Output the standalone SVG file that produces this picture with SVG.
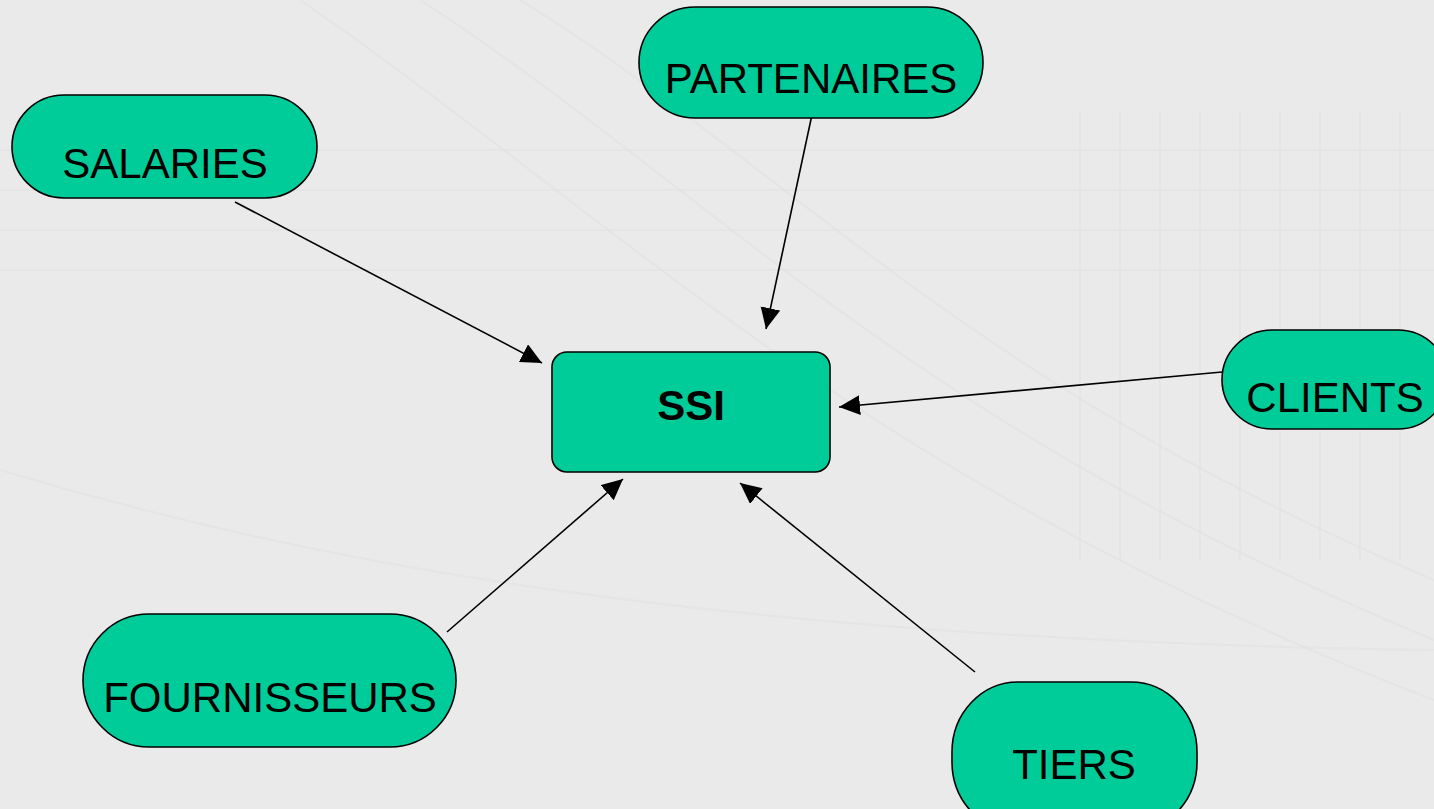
<svg xmlns="http://www.w3.org/2000/svg" width="1434" height="809" viewBox="0 0 1434 809">
  <style>
    .node { fill: #00cc99; stroke: #000; stroke-width: 1.6; }
    .label { font-family: "Liberation Sans", Arial, sans-serif; font-size: 42px; fill: #000; text-anchor: middle; }
    .bold { font-weight: bold; }
    .edge { stroke: #000; stroke-width: 1.6; fill: none; marker-end: url(#arrow); }
    .bgline { stroke: #e0e0e0; stroke-width: 2; fill: none; opacity: 0.5; }
  </style>
  <defs>
    <marker id="arrow" markerUnits="userSpaceOnUse" markerWidth="22" markerHeight="21" refX="21" refY="10" orient="auto">
      <path d="M0,0 L21,10 L0,20 z" fill="#000"/>
    </marker>
  </defs>

  <!-- backdrop -->
  <rect x="0" y="0" width="1434" height="809" fill="#eaeaea"/>
  <g id="backdrop-texture">
    <path class="bgline" d="M420,0 C700,180 900,420 1434,640"/>
    <path class="bgline" d="M300,0 C620,220 860,480 1434,700"/>
    <path class="bgline" d="M520,0 C780,160 960,380 1434,580"/>
    <path class="bgline" d="M0,470 C300,560 700,640 1434,650"/>
    <path class="bgline" d="M1080,110 V560 M1120,110 V560 M1160,110 V560 M1200,110 V560 M1240,110 V560 M1280,110 V560 M1320,110 V560 M1360,110 V560 M1400,110 V560"/>
    <path class="bgline" d="M0,150 H1434 M0,190 H1434 M0,230 H1434 M0,270 H1434"/>
  </g>

  <!-- connectors -->
  <g id="connectors">
    <line class="edge" x1="235" y1="202" x2="542" y2="363"/>
    <line class="edge" x1="813" y1="110" x2="766" y2="329"/>
    <line class="edge" x1="1222" y1="372" x2="839" y2="407"/>
    <line class="edge" x1="447" y1="632" x2="623" y2="479"/>
    <line class="edge" x1="975" y1="672" x2="740" y2="483"/>
  </g>

  <g id="ssi">
    <rect class="node" x="552" y="352" width="278" height="120" rx="15"/>
    <text class="label bold" x="691" y="420">SSI</text>
  </g>

  <g id="salaries">
    <rect class="node" x="12" y="95" width="305" height="103" rx="52" ry="51.5"/>
    <text class="label" x="165" y="178">SALARIES</text>
  </g>

  <g id="partenaires">
    <rect class="node" x="639" y="7" width="344" height="111" rx="56" ry="55.5"/>
    <text class="label" x="811" y="93">PARTENAIRES</text>
  </g>

  <g id="clients">
    <rect class="node" x="1222" y="330" width="226" height="99" rx="50" ry="49.5"/>
    <text class="label" x="1335" y="412">CLIENTS</text>
  </g>

  <g id="fournisseurs">
    <rect class="node" x="83" y="614" width="373" height="133" rx="66" ry="66.5"/>
    <text class="label" x="270" y="712">FOURNISSEURS</text>
  </g>

  <g id="tiers">
    <rect class="node" x="952" y="682" width="245" height="150" rx="66" ry="70"/>
    <text class="label" x="1074" y="779">TIERS</text>
  </g>
</svg>
